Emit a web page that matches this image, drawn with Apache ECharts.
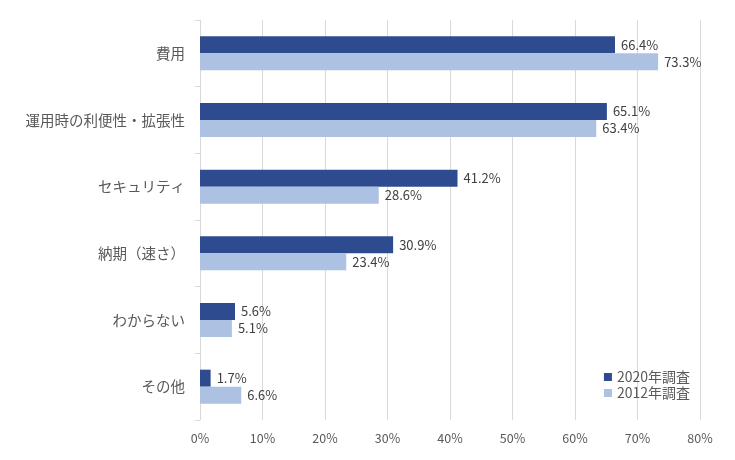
<!DOCTYPE html>
<html><head><meta charset="utf-8">
<script src="https://cdn.jsdelivr.net/npm/echarts@6/dist/echarts.min.js"></script>
<style>html,body{margin:0;padding:0;background:#fff}#c{width:735px;height:460px}</style>
</head><body><div id="c"></div>
<script>
const categories = ['費用','運用時の利便性・拡張性','セキュリティ','納期（速さ）','わからない','その他'];
const s2020 = [66.4, 65.1, 41.2, 30.9, 5.6, 1.7];
const s2012 = [73.3, 63.4, 28.6, 23.4, 5.1, 6.6];
const xTicks = {min: 0, max: 80, interval: 10};
const font = '"Noto Sans CJK JP", "Noto Sans", sans-serif';
const chart = echarts.init(document.getElementById('c'));
const lbl = {show: true, position: 'right', distance: 6, color: '#404040', fontSize: 13, fontFamily: font,
  formatter: p => p.value.toFixed(1) + '%'};
chart.setOption({
  animation: false,
  textStyle: {fontFamily: font},
  grid: {left: 200, right: 35, top: 20, bottom: 40, containLabel: false},
  legend: {orient: 'vertical', right: 40, top: 365, itemWidth: 8, itemHeight: 8, itemGap: 2, icon: 'rect',
    textStyle: {color: '#595959', fontSize: 14, fontFamily: font},
    data: ['2020年調査', '2012年調査']},
  xAxis: {type: 'value', min: xTicks.min, max: xTicks.max, interval: xTicks.interval,
    axisLine: {show: false}, axisTick: {show: false},
    axisLabel: {color: '#595959', fontSize: 12.5, margin: 12, formatter: v => v + '%'},
    splitLine: {lineStyle: {color: '#d9d9d9'}}},
  yAxis: {type: 'category', data: categories, inverse: true,
    axisLine: {lineStyle: {color: '#d9d9d9'}},
    axisTick: {show: true, length: 5, lineStyle: {color: '#d9d9d9'}},
    axisLabel: {color: '#595959', fontSize: 14.5, margin: 15}},
  series: [
    {name: '2020年調査', type: 'bar', data: s2020, barWidth: 17, barGap: '0%',
      itemStyle: {color: '#2f4b8f'}, label: lbl},
    {name: '2012年調査', type: 'bar', data: s2012, barWidth: 17, barGap: '0%',
      itemStyle: {color: '#adc2e3'}, label: lbl}
  ]
});
</script></body></html>
